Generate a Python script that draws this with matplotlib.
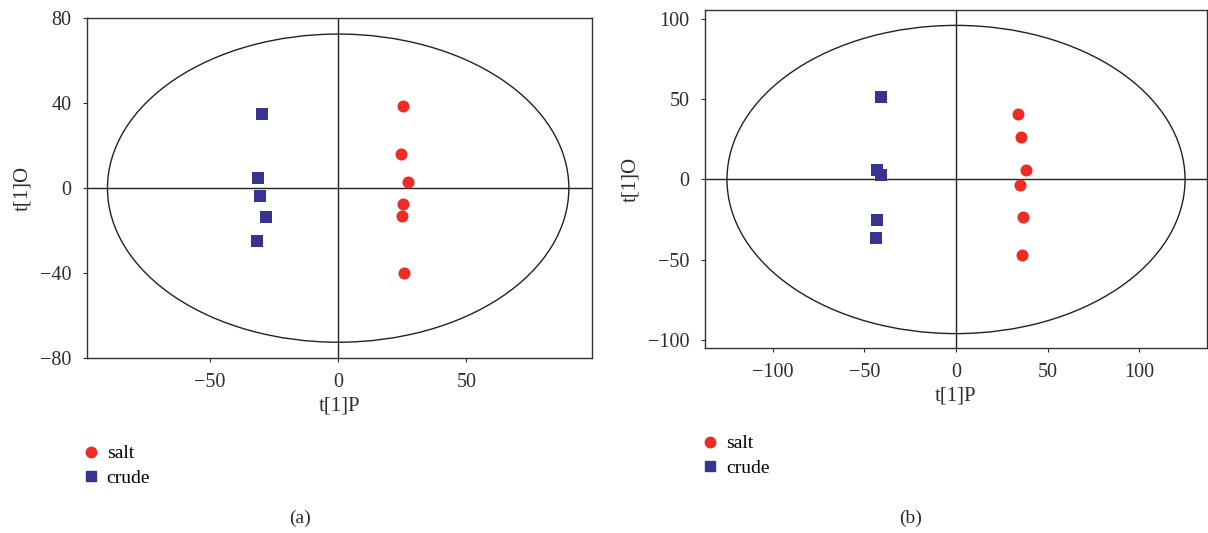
import matplotlib
matplotlib.use('Agg')
import matplotlib.pyplot as plt
from matplotlib.patches import Ellipse
from matplotlib.lines import Line2D

plt.rcParams['font.family'] = ['Liberation Serif', 'DejaVu Serif']
plt.rcParams['axes.unicode_minus'] = True

# (a) 数据
a_salt_x = [25.4, 24.6, 27.3, 25.1, 24.9, 25.8]
a_salt_y = [38.7, 16.3, 2.7, -7.4, -13.0, -39.8]
a_crude_x = [-29.7, -31.2, -30.4, -28.2, -31.6]
a_crude_y = [35.0, 4.8, -3.9, -13.5, -25.1]
a_ellipse = (90, 72.5)          # 半轴 (x, y)
a_xticks = [-50, 0, 50]
a_yticks = [-80, -40, 0, 40, 80]

# (b) 数据
b_salt_x = [33.8, 35.3, 38.3, 34.9, 36.8, 35.9]
b_salt_y = [40.7, 26.2, 5.6, -3.7, -23.1, -47.3]
b_crude_x = [-41.2, -42.9, -41.2, -42.9, -43.6]
b_crude_y = [51.4, 6.2, 2.5, -25.4, -36.2]
b_ellipse = (125, 96)
b_xticks = [-100, -50, 0, 50, 100]
b_yticks = [-100, -50, 0, 50, 100]

RED = '#ee2b24'
BLUE = '#383391'
INK = '#2e2e2e'


def draw_panel(ax, sx, sy, cx, cy, ell, xticks, yticks, xlim, ylim):
    ax.add_patch(Ellipse((0, 0), 2 * ell[0], 2 * ell[1], fill=False,
                         edgecolor='#222222', linewidth=1.0))
    ax.axhline(0, color='#222222', linewidth=1.0)
    ax.axvline(0, color='#222222', linewidth=1.0)
    ax.scatter(sx, sy, marker='o', s=75, color=RED, zorder=3, linewidths=0)
    ax.scatter(cx, cy, marker='s', s=80, color=BLUE, zorder=3, linewidths=0)
    ax.set_xlim(*xlim)
    ax.set_ylim(*ylim)
    ax.set_xticks(xticks)
    ax.set_yticks(yticks)
    ax.set_xlabel('t[1]P', fontsize=15, color=INK, labelpad=3)
    ax.set_ylabel('t[1]O', fontsize=15, color=INK, labelpad=6)
    ax.tick_params(labelsize=14.5, colors=INK, length=3, width=0.8, pad=8)
    for sp in ax.spines.values():
        sp.set_color('#333333')
        sp.set_linewidth(1.0)


fig = plt.figure(figsize=(12.08, 5.33), dpi=100)

ax1 = fig.add_axes([0.072, 0.328, 0.418, 0.638])
draw_panel(ax1, a_salt_x, a_salt_y, a_crude_x, a_crude_y, a_ellipse,
           a_xticks, a_yticks, (-98, 99), (-80, 80))

ax2 = fig.add_axes([0.5836, 0.347, 0.4156, 0.634])
draw_panel(ax2, b_salt_x, b_salt_y, b_crude_x, b_crude_y, b_ellipse,
           b_xticks, b_yticks, (-137, 137), (-105, 105.5))

handles = [Line2D([], [], marker='o', linestyle='', color=RED, markersize=7.5),
           Line2D([], [], marker='s', linestyle='', color=BLUE, markersize=7.5)]
labels = ['salt', 'crude']
for x0, y0 in [(0.061, 0.18), (0.5735, 0.199)]:
    fig.legend(handles, labels, loc='upper left', bbox_to_anchor=(x0, y0),
               frameon=False, fontsize=14, handletextpad=0.3, labelspacing=0.35,
               handlelength=1.0, borderaxespad=0)

fig.text(0.248, 0.027, '(a)', ha='center', va='center', fontsize=14, color=INK)
fig.text(0.754, 0.027, '(b)', ha='center', va='center', fontsize=14, color=INK)

fig.savefig('out.png', dpi=100)
